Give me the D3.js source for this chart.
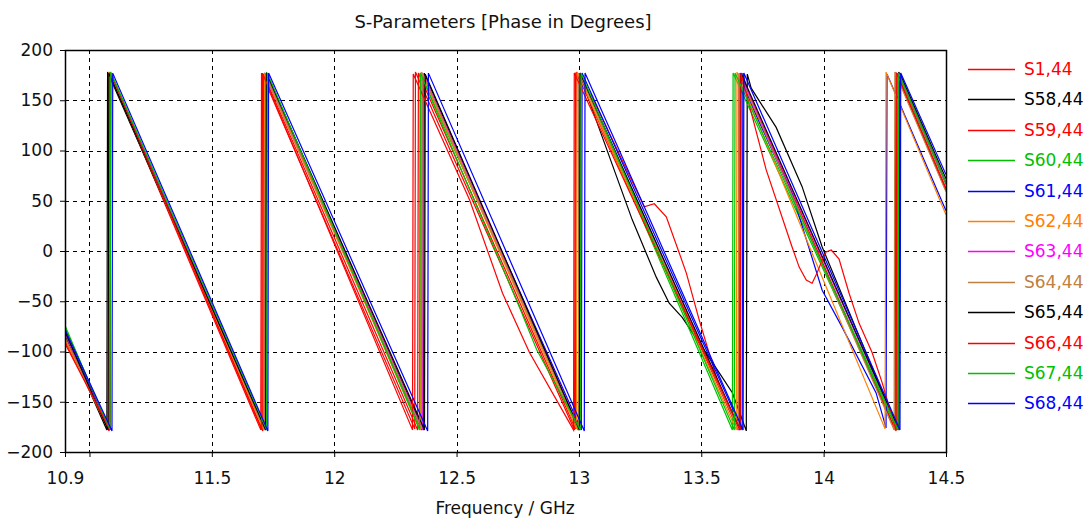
<!DOCTYPE html>
<html lang="en">
<head>
<meta charset="UTF-8">
<title>S-Parameters Phase</title>
<style>
  body { margin: 0; background: #fff; }
  text { font-family: "DejaVu Sans", sans-serif; fill: #111; }
</style>
</head>
<body>
<div class="canvas"></div>
<script src="https://cdnjs.cloudflare.com/ajax/libs/d3/7.8.2/d3.min.js"></script>
<script>
// tick labels
const xTicks = [10.9, 11, 11.5, 12, 12.5, 13, 13.5, 14, 14.5];
const xGrid = [11, 11.5, 12, 12.5, 13, 13.5, 14];
const yTicks = [-200, -150, -100, -50, 0, 50, 100, 150, 200];

const seriesNames = ["S1,44", "S58,44", "S59,44", "S60,44", "S61,44", "S62,44",
  "S63,44", "S64,44", "S65,44", "S66,44", "S67,44", "S68,44"];
const seriesColors = ["#ff0000", "#000000", "#ff0000", "#00c000", "#0000ff", "#ff8000",
  "#ff00ff", "#c08040", "#000000", "#ff0000", "#00c000", "#0000ff"];

// [frequency GHz, phase deg]
const s1 = [[10.9,-88],[11.080,-179],[11.083,176],[11.700,-178],[11.703,177],[12.329,-177],[12.332,178],[12.982,-178],[12.986,176],[13.051,155],[13.267,44],[13.308,47],[13.357,34],[13.410,-2],[13.439,-22],[13.492,-69],[13.561,-125],[13.614,-158],[13.655,-178],[13.658,177],[14.296,-179],[14.299,177],[14.5,62]];
const s58 = [[10.9,-84],[11.071,-178],[11.074,178],[11.716,-177],[11.719,176],[12.365,-178],[12.368,177],[12.998,-178],[13.001,177],[13.218,31],[13.316,-26],[13.369,-52],[13.422,-66],[13.573,-121],[13.627,-141],[13.684,-179],[13.688,176],[13.704,162],[13.806,123],[13.912,64],[13.994,4],[14.304,-178],[14.307,178],[14.5,68]];
const s59 = [[10.9,-90],[11.080,-177],[11.083,178],[11.708,-179],[11.711,176],[12.341,-178],[12.344,177],[12.986,-177],[12.989,178],[13.651,-178],[13.654,176],[14.292,-178],[14.295,178],[14.5,60]];
const s60 = [[10.9,-74],[11.080,-178],[11.083,177],[11.720,-178],[11.723,178],[12.349,-178],[12.352,177],[13.002,-178],[13.005,176],[13.627,-178],[13.630,177],[14.300,-178],[14.303,177],[14.5,66]];
const s61 = [[10.9,-80],[11.084,-178],[11.087,177],[11.712,-177],[11.715,177],[12.357,-178],[12.360,177],[13.010,-178],[13.013,177],[13.667,-178],[13.670,177],[13.696,150],[13.871,57],[13.994,-39],[14.076,-76],[14.214,-141],[14.255,-176],[14.259,176],[14.5,40]];
const s62 = [[10.9,-88],[11.076,-177],[11.079,178],[11.712,-178],[11.715,177],[12.353,-178],[12.356,178],[12.990,-177],[12.993,178],[13.643,-178],[13.646,178],[14.251,-177],[14.255,178],[14.5,36]];
const s63 = [[10.9,-82],[11.080,-178],[11.083,176],[11.720,-177],[11.723,177],[12.361,-178],[12.364,176],[13.002,-177],[13.005,177],[13.655,-178],[13.658,177],[14.304,-177],[14.307,177],[14.5,67]];
const s64 = [[10.9,-86],[11.080,-177],[11.083,177],[11.716,-178],[11.719,176],[12.357,-177],[12.360,177],[12.998,-178],[13.001,177],[13.651,-177],[13.654,177],[14.288,-178],[14.291,178],[14.5,59]];
const s65 = [[10.9,-80],[11.076,-178],[11.079,177],[11.720,-178],[11.723,177],[12.369,-178],[12.372,176],[13.002,-178],[13.005,177],[13.659,-178],[13.662,177],[14.308,-178],[14.311,177],[14.5,72]];
const s66 = [[10.9,-92],[11.084,-178],[11.087,177],[11.704,-178],[11.707,177],[12.320,-178],[12.323,176],[12.553,51],[12.688,-42],[12.798,-101],[12.978,-178],[12.981,177],[13.659,-178],[13.662,177],[13.765,81],[13.871,4],[13.900,-16],[13.929,-29],[13.953,-32],[13.973,-22],[13.994,-9],[14.010,-1],[14.031,1],[14.063,-8],[14.104,-42],[14.145,-72],[14.198,-101],[14.239,-131],[14.280,-165],[14.296,-178],[14.299,177],[14.5,62]];
const s67 = [[10.9,-76],[11.084,-177],[11.087,178],[11.724,-178],[11.727,177],[12.349,-177],[12.352,177],[12.757,-56],[12.827,-98],[13.006,-178],[13.009,177],[13.635,-178],[13.638,177],[14.304,-178],[14.307,177],[14.5,68]];
const s68 = [[10.9,-78],[11.092,-179],[11.095,177],[11.729,-179],[11.732,177],[12.382,-179],[12.385,177],[13.022,-179],[13.025,177],[13.671,-178],[13.674,177],[14.312,-178],[14.315,177],[14.5,76]];

const seriesData = [s1, s58, s59, s60, s61, s62, s63, s64, s65, s66, s67, s68];

const width = 1091;
const height = 520;
const margin = { top: 50, left: 65, right: 145, bottom: 68 };
const plotW = width - margin.left - margin.right;
const plotH = height - margin.top - margin.bottom;

const svg = d3.select(".canvas").append("svg")
  .attr("width", width)
  .attr("height", height);

const x = d3.scaleLinear().domain([10.9, 14.5]).range([0, plotW]);
const y = d3.scaleLinear().domain([-200, 200]).range([plotH, 0]);

const graph = svg.append("g").attr("transform", `translate(${margin.left}, ${margin.top})`);

svg.append("defs").append("clipPath").attr("id", "plotclip")
  .append("rect").attr("width", plotW).attr("height", plotH);

// grid
graph.append("g").selectAll("line").data(xGrid).enter().append("line")
  .attr("x1", d => Math.round(x(d)) + 0.5).attr("x2", d => Math.round(x(d)) + 0.5)
  .attr("y1", 0).attr("y2", plotH)
  .attr("stroke", "#000").attr("stroke-dasharray", "4,4");
graph.append("g").selectAll("line").data(yTicks.slice(1, -1)).enter().append("line")
  .attr("y1", d => Math.round(y(d)) + 0.5).attr("y2", d => Math.round(y(d)) + 0.5)
  .attr("x1", 0).attr("x2", plotW)
  .attr("stroke", "#000").attr("stroke-dasharray", "4,4");

// curves
const line = d3.line().x(d => x(d[0])).y(d => y(d[1]));
graph.append("g").attr("clip-path", "url(#plotclip)")
  .selectAll("path").data(seriesData).enter().append("path")
  .attr("d", line)
  .attr("fill", "none")
  .attr("stroke", (d, i) => seriesColors[i])
  .attr("stroke-width", 1.2);

// axes
const xAxis = d3.axisBottom(x).tickValues(xTicks).tickSize(5).tickSizeOuter(0)
  .tickFormat(d => d === 11 ? "" : String(d));
const yAxis = d3.axisLeft(y).tickValues(yTicks).tickSize(5).tickSizeOuter(0);

const xAxisGroup = graph.append("g").attr("transform", `translate(0, ${plotH})`).call(xAxis);
const yAxisGroup = graph.append("g").call(yAxis);
[xAxisGroup, yAxisGroup].forEach(g => {
  g.select(".domain").remove();
  g.selectAll(".tick line").attr("stroke", "#000");
  g.selectAll("text").attr("font-size", "17px").attr("font-family", "DejaVu Sans").attr("fill", "#111");
});
xAxisGroup.selectAll("text").attr("dy", "1.4em");
yAxisGroup.selectAll("text").attr("x", -12);

// frame
graph.append("rect")
  .attr("x", 0.5).attr("y", 0.5)
  .attr("width", plotW).attr("height", plotH)
  .attr("fill", "none").attr("stroke", "#000").attr("stroke-width", 1.5);

// titles
svg.append("text").attr("x", 503).attr("y", 28).attr("text-anchor", "middle")
  .attr("font-size", "18px").text("S-Parameters [Phase in Degrees]");
svg.append("text").attr("x", 505).attr("y", 514).attr("text-anchor", "middle")
  .attr("font-size", "17px").text("Frequency / GHz");

// legend
const legendItems = seriesNames.map((name, i) => ({ name, color: seriesColors[i], row: i }));
const legend = svg.append("g").selectAll("g").data(legendItems).enter().append("g")
  .attr("transform", d => `translate(968, ${Math.round(69 + d.row * 30.4)})`);
legend.append("line").attr("x1", 0).attr("x2", 47).attr("y1", 0.5).attr("y2", 0.5)
  .attr("stroke", d => d.color).attr("stroke-width", 1.6);
legend.append("text").attr("x", 56).attr("dy", "0.36em")
  .attr("font-size", "17px")
  .style("fill", d => d.color)
  .text(d => d.name);
</script>
</body>
</html>
